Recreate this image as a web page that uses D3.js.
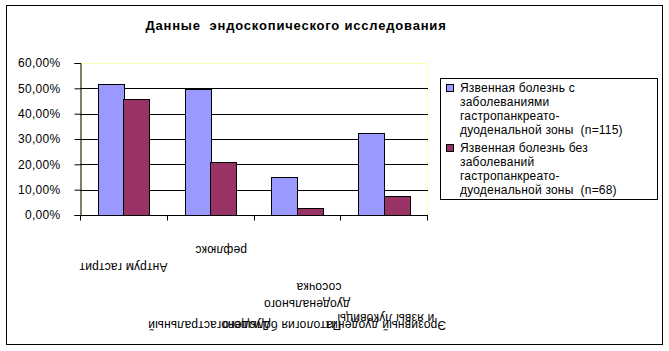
<!DOCTYPE html>
<html><head><meta charset="utf-8">
<script src="https://cdn.jsdelivr.net/npm/d3@7"></script>
<style>
html,body{margin:0;padding:0;background:#fff;}
svg{display:block;font-family:"Liberation Sans",Arial,sans-serif;}
svg text{white-space:pre;}
</style></head>
<body>
<script>
// ---- data ----
const title = "Данные  эндоскопического исследования";
const categories = ["Антрум гастрит","Дуоденогастральный рефлюкс","Патология большого дуоденального сосочка","Эрозивный дуоденит и язвы"];
const categoryLines = [
  ["Антрум гастрит"],
  ["Дуоденогастральный","рефлюкс"],
  ["Патология большого","дуоденального","сосочка"],
  ["Эрозивный дуоденит","и язвы луковицы"]
];
const seriesNames = [
  ["Язвенная болезнь с","заболеваниями","гастропанкреато-","дуоденальной зоны  (n=115)"],
  ["Язвенная болезнь без","заболеваний","гастропанкреато-","дуоденальной зоны  (n=68)"]
];
const seriesWith = [0.516, 0.496, 0.149, 0.322];
const seriesWithout = [0.457, 0.208, 0.026, 0.074];
const yTicks = [0, 0.1, 0.2, 0.3, 0.4, 0.5, 0.6];
const colors = ["#9999FF", "#993366"];

// ---- layout ----
const W = 669, H = 351;
const plot = {x0: 80, x1: 427, y0: 63, y1: 215};
// per-line label placement [dx from band centre, y]
const labelLayout = [
  [[0, 267]],
  [[-1, 325], [11, 250]],
  [[-15, 325], [10, 304], [22, 287]],
  [[2, 325], [2, 318]]
];

const svg = d3.select("body").append("svg").attr("width", W).attr("height", H);

svg.append("rect").attr("x", 6.5).attr("y", 5.5).attr("width", 656).attr("height", 339)
  .attr("fill", "#fff").attr("stroke", "#000").attr("stroke-width", 1);

svg.append("text").attr("x", 296).attr("y", 30).attr("text-anchor", "middle")
  .attr("font-size", 13).attr("font-weight", "bold").attr("letter-spacing", 0.8).text(title);

const x = d3.scaleBand().domain(d3.range(categories.length)).range([plot.x0, plot.x1]).paddingInner(0).paddingOuter(0);
const y = d3.scaleLinear().domain([0, 0.6]).range([plot.y1, plot.y0]);

// plot area border (top/right light yellow)
svg.append("rect").attr("x", plot.x0 + 0.5).attr("y", plot.y0 + 0.5)
  .attr("width", plot.x1 - plot.x0).attr("height", plot.y1 - plot.y0)
  .attr("fill", "#fff").attr("stroke", "#FFFFB0");

// gridlines
svg.append("g").selectAll("line").data(yTicks.filter(t => t > 0 && t < 0.6)).join("line")
  .attr("x1", plot.x0).attr("x2", plot.x1 + 1)
  .attr("y1", d => Math.round(y(d)) + 0.5).attr("y2", d => Math.round(y(d)) + 0.5)
  .attr("stroke", "#000");

// bars
const bw = x.bandwidth();
const barW = bw / (2 + 1.4);
const gap = barW * 1.4;
const series = [seriesWith, seriesWithout];
series.forEach((vals, si) => {
  svg.append("g").selectAll("rect").data(vals).join("rect")
    .attr("x", (d, i) => Math.round(x(i) + gap / 2 + si * barW) + 0.5)
    .attr("y", d => Math.round(y(d)) + 0.5)
    .attr("width", Math.round(barW))
    .attr("height", d => Math.round(y(0)) - Math.round(y(d)))
    .attr("fill", colors[si]).attr("stroke", "#000");
});

// y axis
const yAxis = d3.axisLeft(y).tickValues(yTicks).tickSize(6).tickPadding(14)
  .tickFormat(d => d3.format(".2f")(d * 100).replace(".", ",") + "%");
const ya = svg.append("g").attr("transform", `translate(${plot.x0 + 0.5},0)`).call(yAxis);
ya.select(".domain").attr("stroke", "#000");
ya.selectAll(".tick line").attr("stroke", "#000");
ya.selectAll("text").attr("font-size", 12).attr("letter-spacing", 0.3)
  .attr("font-family", "Liberation Sans, Arial, sans-serif").attr("fill", "#000");

// x axis
const xa = svg.append("g").attr("transform", `translate(0,${plot.y1 + 0.5})`);
xa.append("line").attr("x1", plot.x0).attr("x2", plot.x1 + 1).attr("stroke", "#000");
xa.selectAll("line.t").data(d3.range(categories.length + 1)).join("line").attr("class", "t")
  .attr("x1", i => Math.round(plot.x0 + i * bw) + 0.5).attr("x2", i => Math.round(plot.x0 + i * bw) + 0.5)
  .attr("y1", 0).attr("y2", 5).attr("stroke", "#000");

// category labels, upside down
categoryLines.forEach((lines, ci) => {
  lines.forEach((ln, li) => {
    const [dx, yy] = labelLayout[ci][li];
    svg.append("text")
      .attr("transform", `translate(${x(ci) + bw / 2 + dx},${yy}) rotate(180)`)
      .attr("text-anchor", "middle").attr("dominant-baseline", "central")
      .attr("font-size", 12).attr("letter-spacing", 0.2).text(ln);
  });
});

// legend
const lg = svg.append("g");
lg.append("rect").attr("x", 440.5).attr("y", 78.5).attr("width", 217).attr("height", 121)
  .attr("fill", "#fff").attr("stroke", "#000");
seriesNames.forEach((lines, si) => {
  const top = 88 + si * 60;
  lg.append("rect").attr("x", 446.5).attr("y", top - 3.5).attr("width", 7).attr("height", 7)
    .attr("fill", colors[si]).attr("stroke", "#000");
  lines.forEach((ln, li) => {
    lg.append("text").attr("x", 460).attr("y", top + li * 14).attr("dominant-baseline", "central")
      .attr("font-size", 12).attr("letter-spacing", 0.2).text(ln);
  });
});
</script>
</body></html>
